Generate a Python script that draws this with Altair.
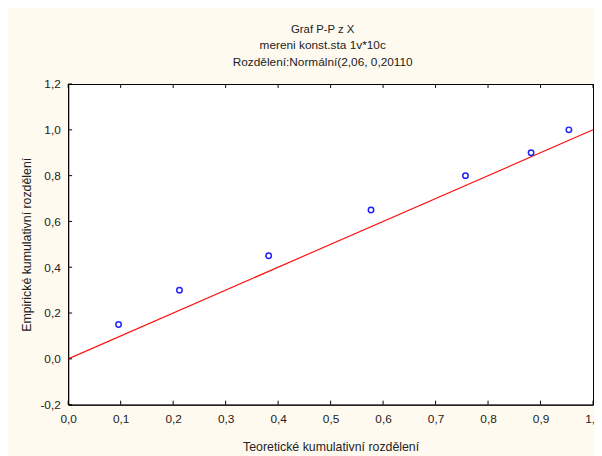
import altair as alt
import pandas as pd

# Data
theoretical = [0.096, 0.212, 0.382, 0.577, 0.757, 0.882, 0.954]
empirical = [0.15, 0.30, 0.45, 0.65, 0.80, 0.90, 1.00]
ref_x = [0.0, 1.0]
ref_y = [0.0, 1.0]
x_ticks = [0.0, 0.1, 0.2, 0.3, 0.4, 0.5, 0.6, 0.7, 0.8, 0.9, 1.0]
y_ticks = [-0.2, 0.0, 0.2, 0.4, 0.6, 0.8, 1.0, 1.2]

title_line = "Graf P-P z X"
subtitle_lines = ["mereni konst.sta 1v*10c", "Rozdělení:Normální(2,06, 0,20110"]
x_title = "Teoretické kumulativní rozdělení"
y_title = "Empirické kumulativní rozdělení"

FONT = "Liberation Sans"
TXT = "#222222"
label_expr = "replace(replace(format(datum.value, '.1f'), '.', ','), '\u2212', '-')"

pts = pd.DataFrame({"x": theoretical, "y": empirical})
ln = pd.DataFrame({"x": ref_x, "y": ref_y})
tkx = pd.DataFrame({"x": x_ticks})
tky = pd.DataFrame({"y": y_ticks})

xscale = alt.Scale(domain=[0, 1], nice=False, zero=False)
yscale = alt.Scale(domain=[-0.2, 1.2], nice=False, zero=False)

x_axis = alt.Axis(
    title=x_title, values=x_ticks, labelExpr=label_expr, grid=False, ticks=False,
    domainColor="black",
    labelFont=FONT, labelFontSize=12, labelColor=TXT, labelPadding=9,
    titleFont=FONT, titleFontSize=12.5, titleFontWeight="normal", titleColor=TXT,
    titlePadding=16, labelFlush=False,
)
y_axis = alt.Axis(
    title=y_title, values=y_ticks, labelExpr=label_expr, grid=False, ticks=False,
    domainColor="black",
    labelFont=FONT, labelFontSize=12, labelColor=TXT, labelPadding=8,
    titleFont=FONT, titleFontSize=12.5, titleFontWeight="normal", titleColor=TXT,
    titlePadding=7, labelFlush=False,
)

points = alt.Chart(pts).mark_point(
    shape="circle", filled=False, color="#1f1fff", size=30, strokeWidth=1.5, opacity=1
).encode(
    x=alt.X("x:Q", scale=xscale, axis=x_axis),
    y=alt.Y("y:Q", scale=yscale, axis=y_axis),
)

line = alt.Chart(ln).mark_line(color="#ff1010", strokeWidth=1.2, clip=True).encode(
    x=alt.X("x:Q", scale=xscale),
    y=alt.Y("y:Q", scale=yscale),
)

# inward ticks drawn as short rules at the tick values
top_ticks = alt.Chart(tkx).mark_rule(color="black", strokeWidth=1).encode(
    x=alt.X("x:Q", scale=xscale), y=alt.value(0), y2=alt.value(4),
)
bottom_ticks = alt.Chart(tkx).mark_rule(color="black", strokeWidth=1).encode(
    x=alt.X("x:Q", scale=xscale), y=alt.value(321), y2=alt.value(325),
)
left_ticks = alt.Chart(tky).mark_rule(color="black", strokeWidth=1).encode(
    y=alt.Y("y:Q", scale=yscale), x=alt.value(0), x2=alt.value(4),
)

chart = alt.layer(line, points, top_ticks, bottom_ticks, left_ticks).properties(
    width=532, height=325,
    autosize=alt.AutoSizeParams(type="none"),
    padding={"left": 61, "top": 74, "right": 1, "bottom": 49},
    background="#fffaf0",
    title=alt.TitleParams(
        text=title_line, subtitle=subtitle_lines, anchor="middle",
        font=FONT, fontSize=11.5, fontWeight="normal", color=TXT,
        subtitleFont=FONT, subtitleFontSize=12, subtitleColor=TXT,
        subtitleLineHeight=17.5, subtitlePadding=5, offset=10, dx=-8,
    ),
).configure_view(
    fill="white", stroke="black", strokeWidth=1
).configure_axis(
    domainWidth=1, grid=False
)

chart.save("out.html", embed_options={"renderer": "svg", "actions": False})
